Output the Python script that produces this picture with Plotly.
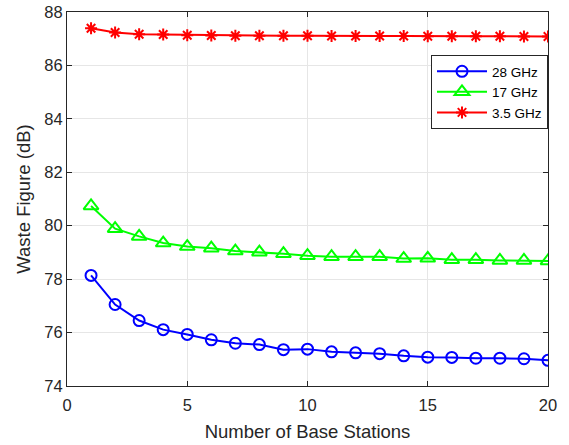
import plotly.graph_objects as go

num_bs = list(range(1, 21))
wf_28ghz = [78.14, 77.05, 76.45, 76.11, 75.93, 75.73, 75.60, 75.55, 75.36, 75.38,
            75.28, 75.24, 75.21, 75.13, 75.08, 75.07, 75.04, 75.04, 75.02, 74.96]
wf_17ghz = [80.74, 79.89, 79.60, 79.35, 79.22, 79.16, 79.05, 79.01, 78.95, 78.88,
            78.84, 78.84, 78.84, 78.77, 78.78, 78.73, 78.73, 78.70, 78.70, 78.68]
wf_35ghz = [87.39, 87.23, 87.17, 87.16, 87.13, 87.12, 87.11, 87.11, 87.11, 87.11,
            87.10, 87.10, 87.10, 87.10, 87.09, 87.09, 87.09, 87.09, 87.08, 87.08]
series_names = ["28 GHz", "17 GHz", "3.5 GHz"]
x_ticks = [0, 5, 10, 15, 20]
y_ticks = [74, 76, 78, 80, 82, 84, 86, 88]

fig = go.Figure()
fig.add_trace(go.Scatter(x=num_bs, y=wf_28ghz, name=series_names[0], mode="lines+markers",
                         line=dict(color="#0000ff", width=2),
                         marker=dict(symbol="circle-open", size=11, color="#0000ff",
                                     line=dict(width=2))))
fig.add_trace(go.Scatter(x=num_bs, y=wf_17ghz, name=series_names[1], mode="lines+markers",
                         line=dict(color="#00ff00", width=2),
                         marker=dict(symbol="triangle-up-open", size=13, color="#00ff00",
                                     line=dict(width=2))))
fig.add_trace(go.Scatter(x=num_bs, y=wf_35ghz, name=series_names[2], mode="lines+markers",
                         line=dict(color="#ff0000", width=2),
                         marker=dict(symbol="asterisk-open", size=10, color="#ff0000",
                                     line=dict(width=2, color="#ff0000"))))

axis_common = dict(showline=True, linecolor="#262626", linewidth=1, mirror="ticks",
                   ticks="inside", ticklen=5, tickcolor="#262626", automargin=True,
                   showgrid=True, gridcolor="#e6e6e6", gridwidth=1, zeroline=False,
                   tickfont=dict(family="Liberation Sans, Arial", size=16.5, color="#262626"),
                   title_font=dict(family="Liberation Sans, Arial", size=18.5, color="#262626"))

fig.update_xaxes(range=[0, 20], tickvals=x_ticks, title_text="Number of Base Stations",
                 title_standoff=12, ticklabelstandoff=4, **axis_common)
fig.update_yaxes(range=[74, 88], tickvals=y_ticks, title_text="Waste Figure (dB)",
                 title_standoff=8, **axis_common)

fig.update_layout(
    width=569, height=445,
    margin=dict(l=67, r=21, t=12, b=59, autoexpand=False),
    plot_bgcolor="white", paper_bgcolor="white",
    font=dict(family="Liberation Sans, Arial", color="#262626"),
    legend=dict(x=1.0, y=0.885, xanchor="right", yanchor="top",
                bgcolor="white", bordercolor="#262626", borderwidth=1,
                font=dict(size=13.5, color="#000000"), tracegroupgap=0, itemwidth=50),
    showlegend=True,
)

fig.write_html("out.html", config={"displayModeBar": False},
               post_script="document.body.style.margin='0px';")
